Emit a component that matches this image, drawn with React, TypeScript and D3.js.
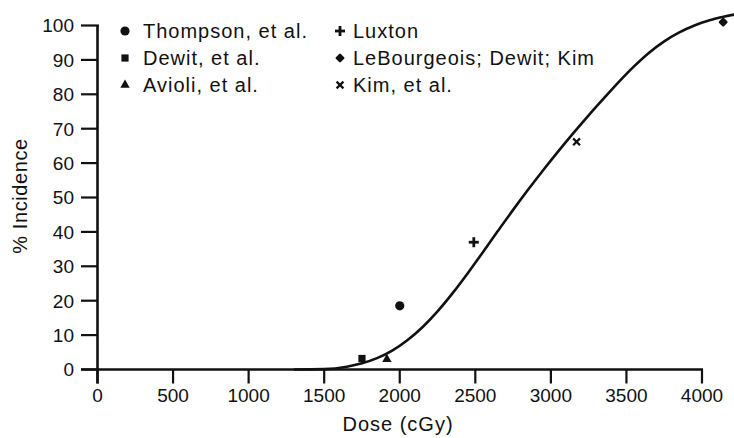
import React from "react";
import * as d3 from "d3";

// Axis ticks
const doseTicks = [0, 500, 1000, 1500, 2000, 2500, 3000, 3500, 4000];
const incidenceTicks = [0, 10, 20, 30, 40, 50, 60, 70, 80, 90, 100];

// Fitted dose–response curve (dose in cGy, % incidence)
const curveDose = [1300, 1500, 1650, 1750, 1850, 1950, 2050, 2150, 2250, 2350, 2450, 2550, 2650, 2750, 2850, 2950, 3050, 3150, 3250, 3350, 3450, 3550, 3650, 3750, 3850, 3950, 4050, 4150, 4250];
const curvePct = [0, 0.1, 0.8, 1.8, 3.3, 5.5, 8.5, 12.3, 16.9, 22.2, 28.0, 34.1, 40.3, 46.4, 52.3, 58.0, 63.5, 68.8, 73.9, 78.8, 83.6, 88.1, 92.1, 95.4, 98.0, 100.0, 101.5, 102.6, 103.5];

// Study results
const thompson = [{ dose: 2000, pct: 18.5 }];
const dewit = [{ dose: 1750, pct: 3.2 }];
const avioli = [{ dose: 1915, pct: 3.0 }];
const luxton = [{ dose: 2490, pct: 37 }];
const leBourgeois = [{ dose: 4140, pct: 101 }];
const kim = [{ dose: 3170, pct: 66.2 }];

const legendLeft = ["Thompson, et al.", "Dewit, et al.", "Avioli, et al."];
const legendRight = ["Luxton", "LeBourgeois; Dewit; Kim", "Kim, et al."];

const W = 734;
const H = 438;
const FONT = "'Liberation Sans', Arial, Helvetica, sans-serif";
const INK = "#111";

type Shape = "circle" | "square" | "triangle" | "plus" | "diamond" | "cross";

function Marker({ shape, cx, cy }: { shape: Shape; cx: number; cy: number }) {
  const t = `translate(${cx},${cy})`;
  if (shape === "circle") return <circle cx={cx} cy={cy} r={4.6} fill={INK} />;
  if (shape === "square") return <rect x={cx - 3.6} y={cy - 3.6} width={7.2} height={7.2} fill={INK} />;
  if (shape === "triangle")
    return <path transform={t} d={d3.symbol(d3.symbolTriangle, 38)() || ""} fill={INK} />;
  if (shape === "diamond")
    return <rect transform={`${t} rotate(45)`} x={-3.5} y={-3.5} width={7} height={7} rx={1.2} fill={INK} />;
  if (shape === "plus")
    return (
      <g transform={t} stroke={INK} strokeWidth={2.8} strokeLinecap="butt">
        <line x1={-5} y1={0} x2={5} y2={0} />
        <line x1={0} y1={-5} x2={0} y2={5} />
      </g>
    );
  return (
    <g transform={t} stroke={INK} strokeWidth={2.2}>
      <line x1={-3.4} y1={-3.4} x2={3.4} y2={3.4} />
      <line x1={-3.4} y1={3.4} x2={3.4} y2={-3.4} />
    </g>
  );
}

export default function App() {
  const x = d3.scaleLinear().domain([0, 4000]).range([97.5, 702]);
  const y = d3.scaleLinear().domain([0, 100]).range([369.5, 25.5]);

  const curve = d3
    .line<number>()
    .x((_, i) => x(curveDose[i]))
    .y((d) => y(d))
    .curve(d3.curveMonotoneX)(curvePct) || "";

  const x0 = x(0);
  const y0 = y(0);
  const yTickLeft = x0 - 16.5;
  const xTickBottom = y0 + 14;

  const series: { data: { dose: number; pct: number }[]; shape: Shape }[] = [
    { data: thompson, shape: "circle" },
    { data: dewit, shape: "square" },
    { data: avioli, shape: "triangle" },
    { data: luxton, shape: "plus" },
    { data: leBourgeois, shape: "diamond" },
    { data: kim, shape: "cross" },
  ];
  const leftShapes: Shape[] = ["circle", "square", "triangle"];
  const rightShapes: Shape[] = ["plus", "diamond", "cross"];
  const rowBase = [38, 65, 92];

  return (
    <svg
      width={W}
      height={H}
      viewBox={`0 0 ${W} ${H}`}
      style={{ position: "absolute", left: 0, top: 0, background: "#fff", display: "block" }}
      fontFamily={FONT}
    >
      <rect width={W} height={H} fill="#fff" />

      {/* y axis */}
      <line x1={x0} y1={y(100) - 0.5} x2={x0} y2={xTickBottom} stroke={INK} strokeWidth={2.6} />
      {incidenceTicks.map((v) => (
        <g key={`yt${v}`}>
          <line x1={yTickLeft} y1={y(v)} x2={v === 100 ? x0 + 1.3 : x0} y2={y(v)} stroke={INK} strokeWidth={2.2} />
          <text x={74} y={y(v)} dy="0.36em" textAnchor="end" fontSize={19} fill={INK}>
            {v}
          </text>
        </g>
      ))}

      {/* x axis */}
      <line x1={yTickLeft} y1={y0} x2={x(4000) + 1} y2={y0} stroke={INK} strokeWidth={2.6} />
      {doseTicks.map((v) => (
        <g key={`xt${v}`}>
          <line x1={x(v)} y1={y0} x2={x(v)} y2={xTickBottom} stroke={INK} strokeWidth={2.2} />
          <text x={x(v)} y={402} textAnchor="middle" fontSize={19} fill={INK}>
            {v}
          </text>
        </g>
      ))}

      <text x={398} y={431} textAnchor="middle" fontSize={20} letterSpacing={1} fill={INK}>
        Dose (cGy)
      </text>
      <text
        transform="translate(27,196) rotate(-90)"
        textAnchor="middle"
        fontSize={20}
        letterSpacing={0.6}
        fill={INK}
      >
        % Incidence
      </text>

      {/* fitted curve */}
      <path d={curve} fill="none" stroke={INK} strokeWidth={2.6} strokeLinejoin="round" />

      {/* observations */}
      {series.map((s, si) =>
        s.data.map((d, di) => (
          <Marker key={`p${si}-${di}`} shape={s.shape} cx={x(d.dose)} cy={y(d.pct)} />
        ))
      )}

      {/* legend */}
      {legendLeft.map((name, i) => (
        <g key={`ll${i}`}>
          <Marker shape={leftShapes[i]} cx={125} cy={rowBase[i] - 7} />
          <text x={143} y={rowBase[i]} fontSize={20} letterSpacing={1} fill={INK}>
            {name}
          </text>
        </g>
      ))}
      {legendRight.map((name, i) => (
        <g key={`lr${i}`}>
          <Marker shape={rightShapes[i]} cx={340} cy={rowBase[i] - 7} />
          <text x={353} y={rowBase[i]} fontSize={20} letterSpacing={1} fill={INK}>
            {name}
          </text>
        </g>
      ))}
    </svg>
  );
}
